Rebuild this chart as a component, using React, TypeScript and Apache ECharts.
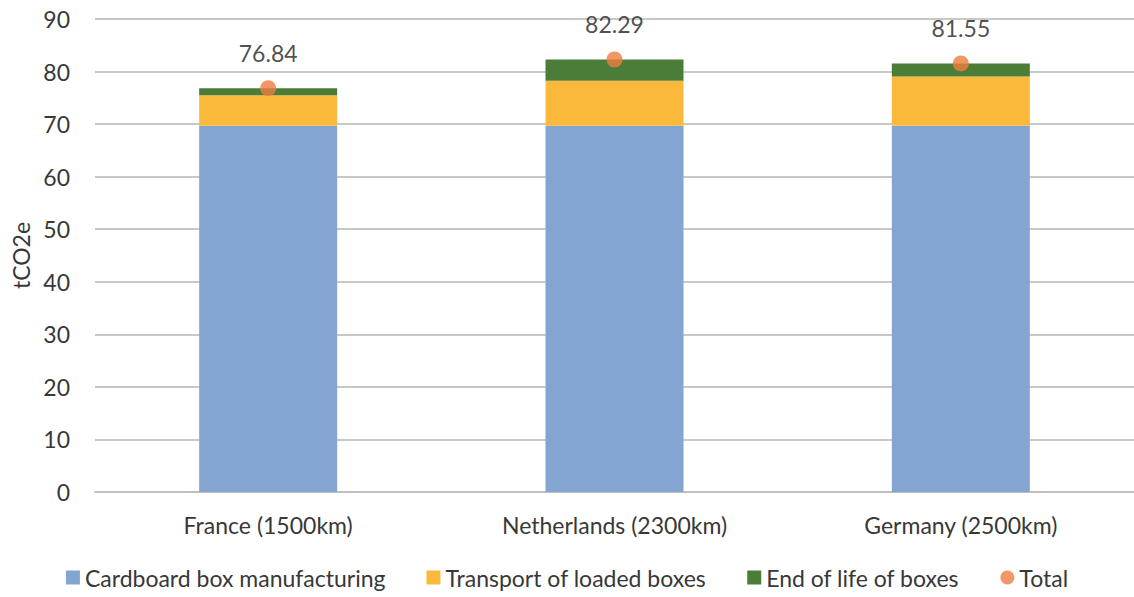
import React, { useEffect, useRef } from "react";
import * as echarts from "echarts";

const categories = ["France (1500km)", "Netherlands (2300km)", "Germany (2500km)"];
const manufacturing = [69.7, 69.7, 69.7];
const transport = [5.8, 8.55, 9.38];
const endOfLife = [1.34, 4.04, 2.47];
const totals = [76.84, 82.29, 81.55];

const FONT = "Lato";

export default function App() {
  const ref = useRef<HTMLDivElement>(null);
  useEffect(() => {
    document.body.style.margin = "0";
    const chart = echarts.init(ref.current!, undefined, { renderer: "svg" });
    chart.setOption({
      animation: false,
      textStyle: { fontFamily: FONT },
      grid: { left: 95, right: -6, top: 19, bottom: 105 },
      legend: {
        bottom: 3,
        left: "center",
        itemWidth: 14,
        itemHeight: 14,
        itemGap: 41,
        textStyle: { fontFamily: FONT, fontSize: 23, color: "#383838" },
        data: [
          { name: "Cardboard box manufacturing", icon: "rect" },
          { name: "Transport of loaded boxes", icon: "rect" },
          { name: "End of life of boxes", icon: "rect" },
          { name: "Total", icon: "circle" },
        ],
      },
      xAxis: {
        type: "category",
        data: categories,
        axisTick: { show: false },
        axisLine: { lineStyle: { color: "#BFBFBF", width: 2 } },
        axisLabel: { fontFamily: FONT, fontSize: 23, color: "#383838", margin: 21 },
      },
      yAxis: {
        type: "value",
        min: 0,
        max: 90,
        interval: 10,
        name: "tCO2e",
        nameLocation: "middle",
        nameGap: 62,
        nameTextStyle: { fontFamily: FONT, fontSize: 23, color: "#383838" },
        axisLine: { show: false },
        axisTick: { show: false },
        axisLabel: { fontFamily: FONT, fontSize: 23, color: "#383838", margin: 25 },
        splitLine: { lineStyle: { color: "#C8C8C8", width: 2 } },
      },
      series: [
        {
          name: "Cardboard box manufacturing",
          type: "bar",
          stack: "a",
          barWidth: 138,
          data: manufacturing,
          itemStyle: { color: "#84A4D2" },
        },
        {
          name: "Transport of loaded boxes",
          type: "bar",
          stack: "a",
          data: transport,
          itemStyle: { color: "#FBB93B" },
        },
        {
          name: "End of life of boxes",
          type: "bar",
          stack: "a",
          data: endOfLife,
          itemStyle: { color: "#4B7D39" },
        },
        {
          name: "Total",
          type: "scatter",
          data: totals,
          symbolSize: 16,
          itemStyle: { color: "#EE7D3F" },
          label: {
            show: true,
            position: "top",
            distance: 16,
            fontFamily: FONT,
            fontSize: 23,
            color: "#222222",
            formatter: (p: any) => p.value.toFixed(2),
          },
          z: 5,
        },
      ],
    });
    return () => chart.dispose();
  }, []);
  return <div ref={ref} style={{ position: "absolute", left: 0, top: 0, width: 1134, height: 597 }} />;
}
